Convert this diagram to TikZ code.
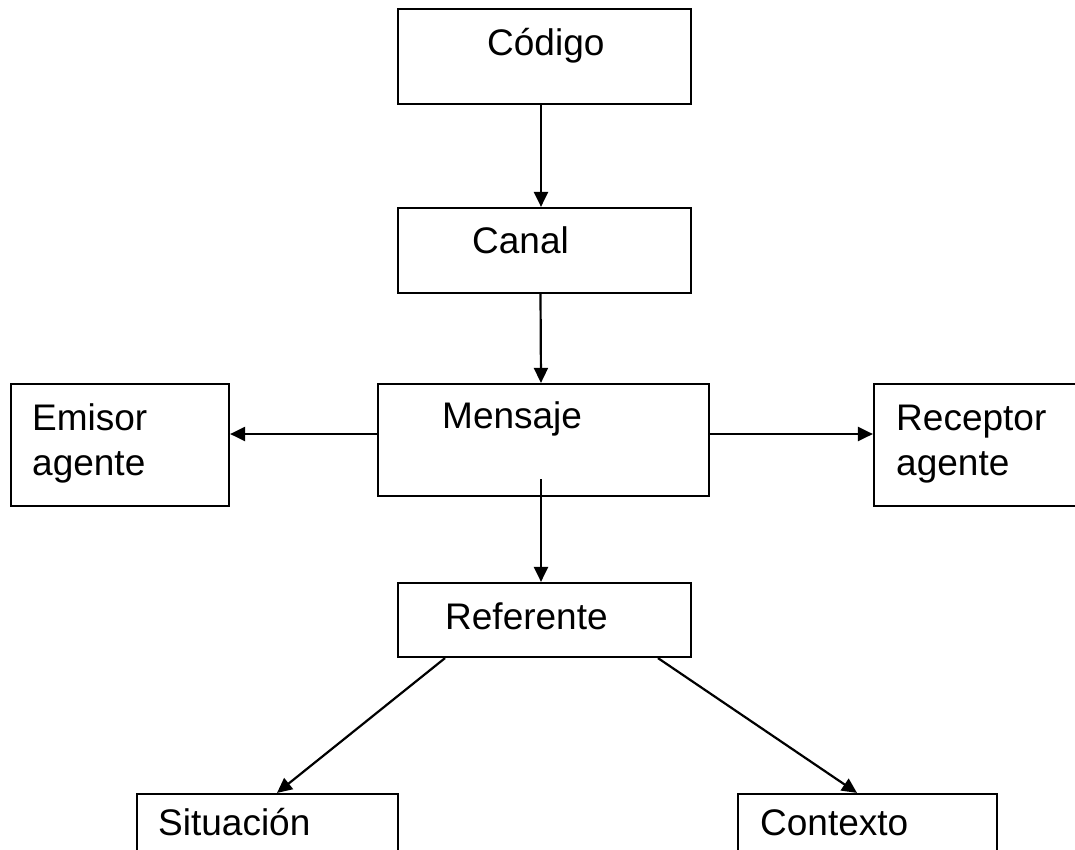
\documentclass[tikz,border=0pt]{standalone}
\usepackage{fontspec}
\setmainfont{Liberation Sans}
\usetikzlibrary{arrows.meta}

\begin{document}
\begin{tikzpicture}[x = 1pt, y = -1pt, > = {Triangle[length=15pt, width=14pt]},
	box/.style = {draw, line width = 2.2pt, inner sep = 0pt},
	label/.style = {anchor = base west, inner sep = 0pt, align = left,
		font = \fontsize{37}{45}\selectfont}]

	\useasboundingbox (0, 0) rectangle (1075, 849);
	\clip (0, 0) rectangle (1075, 849);

	% The boxes

	\node [box, minimum width = 293pt, minimum height = 95pt] (codigo) at (544.5, 56.5) {};
	\node [box, minimum width = 293pt, minimum height = 85pt] (canal) at (544.5, 250.5) {};
	\node [box, minimum width = 331pt, minimum height = 112pt] (mensaje) at (543.5, 440) {};
	\node [box, minimum width = 218pt, minimum height = 122pt] (emisor) at (120, 445) {};
	\node [box, minimum width = 230pt, minimum height = 122pt] (receptor) at (989, 445) {};
	\node [box, minimum width = 293pt, minimum height = 74pt] (referente) at (544.5, 620) {};
	\node [box, minimum width = 261pt, minimum height = 120pt] (situacion) at (267.5, 854) {};
	\node [box, minimum width = 259pt, minimum height = 120pt] (contexto) at (867.5, 854) {};

	% Texts (the base of a two line text is its last line)

	\node [label] (codigo text) at (487, 55) {Código};
	\node [label] (canal text) at (472, 253) {Canal};
	\node [label] (mensaje text) at (442, 428) {Mensaje};
	\node [label] (emisor text) at (32, 475) {Emisor\\agente};
	\node [label] (receptor text) at (896, 475) {Receptor\\agente};
	\node [label] (referente text) at (445, 629) {Referente};
	\node [label] (situacion text) at (158, 835) {Situación};
	\node [label] (contexto text) at (760, 835) {Contexto};

	% Arrows

	\begin{scope}[->, line width = 2.2pt]

		\draw ([xshift = -3.5pt] codigo.south) -- ([xshift = -3.5pt] canal.north);
		\draw ([xshift = -4pt] canal.south) -- ([xshift = -2.5pt] mensaje.north);
		\draw ([yshift = 6pt] mensaje.west) -- ([yshift = 6pt] mensaje.west -| emisor.east);
		\draw ([yshift = 6pt] mensaje.east) -- ([yshift = 6pt] mensaje.east -| receptor.west);
		\draw ([xshift = -2.5pt, yshift = 18pt] mensaje.south) -- ([xshift = -3.5pt] referente.north);
		\draw ([xshift = -99.5pt] referente.south) -- ([xshift = 9.5pt] situacion.north);
		\draw ([xshift = 113.5pt] referente.south) -- ([xshift = -10.5pt] contexto.north);

	\end{scope}

\end{tikzpicture}
\end{document}
